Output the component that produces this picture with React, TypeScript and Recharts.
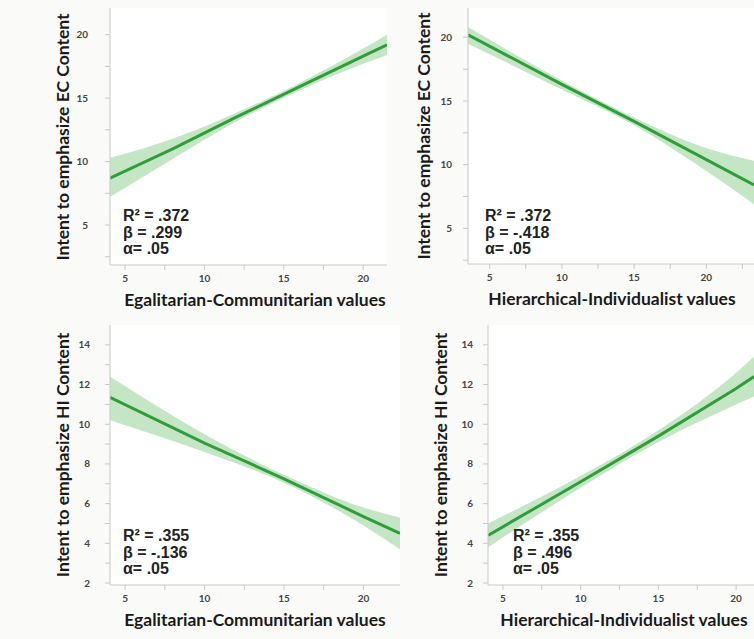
import { Area, CartesianGrid, ComposedChart, Line, XAxis, YAxis } from 'recharts'

// regression fits: x, fitted y, lower / upper CI
const ecEgalX = [4.05, 8, 12, 16, 20, 21.5]
const ecEgalFit = [8.7, 11.0, 13.5, 15.9, 18.3, 19.2]
const ecEgalLo = [7.2, 10.2, 13.15, 15.6, 17.7, 18.4]
const ecEgalHi = [10.3, 11.8, 13.85, 16.2, 18.9, 20.0]

const ecHierX = [3.5, 10, 15, 20, 23.3]
const ecHierFit = [20.2, 16.3, 13.4, 10.4, 8.4]
const ecHierLo = [19.5, 15.9, 13.1, 9.5, 6.9]
const ecHierHi = [20.8, 16.6, 13.7, 11.3, 10.3]

const hiEgalX = [4.05, 10, 15, 20, 22.3]
const hiEgalFit = [11.35, 9.05, 7.25, 5.35, 4.5]
const hiEgalLo = [10.2, 8.6, 7.05, 4.9, 3.7]
const hiEgalHi = [12.4, 9.5, 7.45, 5.8, 5.3]

const hiHierX = [4.04, 10, 15, 20, 21.15]
const hiHierFit = [4.4, 7.1, 9.4, 11.8, 12.4]
const hiHierLo = [3.8, 6.8, 9.1, 11.0, 11.4]
const hiHierHi = [5.0, 7.4, 9.7, 12.6, 13.4]

const xTicks = [5, 7.5, 10, 12.5, 15, 17.5, 20]
const xTicksWide = [5, 7.5, 10, 12.5, 15, 17.5, 20, 22.5]
const ecTicks = [2.5, 5, 7.5, 10, 12.5, 15, 17.5, 20]
const hiTicks = [2, 3, 4, 5, 6, 7, 8, 9, 10, 11, 12, 13, 14]

const EGAL_TITLE = 'Egalitarian-Communitarian values'
const HIER_TITLE = 'Hierarchical-Individualist values'
const EC_TITLE = 'Intent to emphasize EC Content'
const HI_TITLE = 'Intent to emphasize HI Content'

const GREEN = '#2f9e3a'
const BAND = '#9fd69f'

function build(xs: number[], fit: number[], lo: number[], hi: number[]) {
  return xs.map((x, i) => ({ x, fit: fit[i], band: [lo[i], hi[i]] }))
}

interface PanelProps {
  left: number
  top: number
  width: number
  height: number
  plotLeft: number
  plotTop: number
  plotBottom: number
  tickGap: number
  data: { x: number; fit: number; band: number[] }[]
  xDomain: [number, number]
  yDomain: [number, number]
  xTicks: number[]
  yTicks: number[]
  yLabelEvery: number
  xTitle: string
  xTitleX: number
  yTitle: string
  yTitleX: number
  stats: string[]
  statsX: number
  statsY: number
}

const tickStyle = { fontSize: 10, fill: '#444', fontFamily: 'Lato, sans-serif', fontWeight: 700 }
const titleFont = {
  whiteSpace: 'nowrap' as const,
  fontFamily: 'Lato, sans-serif',
  fontWeight: 700,
  fontSize: 17.5,
  color: '#1a1a1a',
}

function Panel(p: PanelProps) {
  return (
    <div
      style={{
        position: 'absolute',
        left: p.left,
        top: p.top,
        width: p.width,
        height: p.height,
        background: '#fafaf9',
      }}
    >
      <ComposedChart
        width={p.width}
        height={p.height}
        data={p.data}
        margin={{ top: p.plotTop, right: 0, bottom: 0, left: 0 }}
      >
        <CartesianGrid horizontal={false} vertical={false} fill="#ffffff" />
        <XAxis
          type="number"
          dataKey="x"
          domain={p.xDomain}
          allowDataOverflow
          ticks={p.xTicks}
          interval={0}
          height={p.height - p.plotBottom}
          tickSize={5}
          tickMargin={5}
          stroke="#c8c8c8"
          tick={tickStyle}
          tickFormatter={(v: number) => (v % 5 === 0 ? String(v) : '')}
        />
        <YAxis
          type="number"
          domain={p.yDomain}
          allowDataOverflow
          ticks={p.yTicks}
          interval={0}
          width={p.plotLeft}
          tickSize={5}
          tickMargin={p.tickGap}
          stroke="#c8c8c8"
          tick={tickStyle}
          tickFormatter={(v: number) => (v % p.yLabelEvery === 0 ? String(v) : '')}
        />
        <Area
          type="monotone"
          dataKey="band"
          stroke="none"
          fill={BAND}
          fillOpacity={0.6}
          isAnimationActive={false}
        />
        <Line
          type="linear"
          dataKey="fit"
          stroke={GREEN}
          strokeWidth={3}
          dot={false}
          isAnimationActive={false}
        />
      </ComposedChart>
      <div
        style={{
          ...titleFont,
          position: 'absolute',
          left: p.xTitleX,
          top: p.plotBottom + 24,
          transform: 'translateX(-50%)',
        }}
      >
        {p.xTitle}
      </div>
      <div
        style={{
          ...titleFont,
          position: 'absolute',
          left: p.yTitleX,
          top: (p.plotTop + p.plotBottom) / 2,
          transform: 'translate(-50%, -50%) rotate(-90deg)',
        }}
      >
        {p.yTitle}
      </div>
      <div
        style={{
          position: 'absolute',
          left: p.statsX,
          top: p.statsY,
          fontFamily: '"Liberation Sans", Arial, sans-serif',
          fontWeight: 700,
          fontSize: 16,
          lineHeight: '16.5px',
          color: '#222',
        }}
      >
        {p.stats.map((s) => (
          <div key={s}>{s}</div>
        ))}
      </div>
    </div>
  )
}

export default function App() {
  return (
    <div
      style={{
        position: 'fixed',
        left: 0,
        top: 0,
        width: 754,
        height: 639,
        background: '#f2f2f0',
        overflow: 'hidden',
      }}
    >
      <Panel
        left={0}
        top={0}
        width={387}
        height={320}
        plotLeft={110}
        plotTop={8}
        plotBottom={265}
        tickGap={17}
        data={build(ecEgalX, ecEgalFit, ecEgalLo, ecEgalHi)}
        xDomain={[4.05, 21.5]}
        yDomain={[1.85, 22.1]}
        xTicks={xTicks}
        yTicks={ecTicks}
        yLabelEvery={5}
        xTitle={EGAL_TITLE}
        xTitleX={255}
        yTitle={EC_TITLE}
        yTitleX={62}
        stats={['R² = .372', 'β = .299', 'α= .05']}
        statsX={123}
        statsY={208}
      />
      <Panel
        left={387}
        top={0}
        width={367}
        height={320}
        plotLeft={81}
        plotTop={8}
        plotBottom={264}
        tickGap={11}
        data={build(ecHierX, ecHierFit, ecHierLo, ecHierHi)}
        xDomain={[3.5, 23.3]}
        yDomain={[2.2, 22.3]}
        xTicks={xTicksWide}
        yTicks={ecTicks}
        yLabelEvery={5}
        xTitle={HIER_TITLE}
        xTitleX={225}
        yTitle={EC_TITLE}
        yTitleX={36}
        stats={['R² = .372', 'β = -.418', 'α= .05']}
        statsX={98}
        statsY={208}
      />
      <Panel
        left={0}
        top={320}
        width={400}
        height={319}
        plotLeft={110}
        plotTop={5}
        plotBottom={265}
        tickGap={15}
        data={build(hiEgalX, hiEgalFit, hiEgalLo, hiEgalHi)}
        xDomain={[4.05, 22.3]}
        yDomain={[1.9, 15]}
        xTicks={xTicks}
        yTicks={hiTicks}
        yLabelEvery={2}
        xTitle={EGAL_TITLE}
        xTitleX={255}
        yTitle={HI_TITLE}
        yTitleX={62}
        stats={['R² = .355', 'β = -.136', 'α= .05']}
        statsX={123}
        statsY={208}
      />
      <Panel
        left={400}
        top={320}
        width={354}
        height={319}
        plotLeft={88}
        plotTop={5}
        plotBottom={265}
        tickGap={10}
        data={build(hiHierX, hiHierFit, hiHierLo, hiHierHi)}
        xDomain={[4.04, 21.15]}
        yDomain={[1.9, 15]}
        xTicks={xTicks}
        yTicks={hiTicks}
        yLabelEvery={2}
        xTitle={HIER_TITLE}
        xTitleX={224}
        yTitle={HI_TITLE}
        yTitleX={40}
        stats={['R² = .355', 'β = .496', 'α= .05']}
        statsX={113}
        statsY={208}
      />
    </div>
  )
}
